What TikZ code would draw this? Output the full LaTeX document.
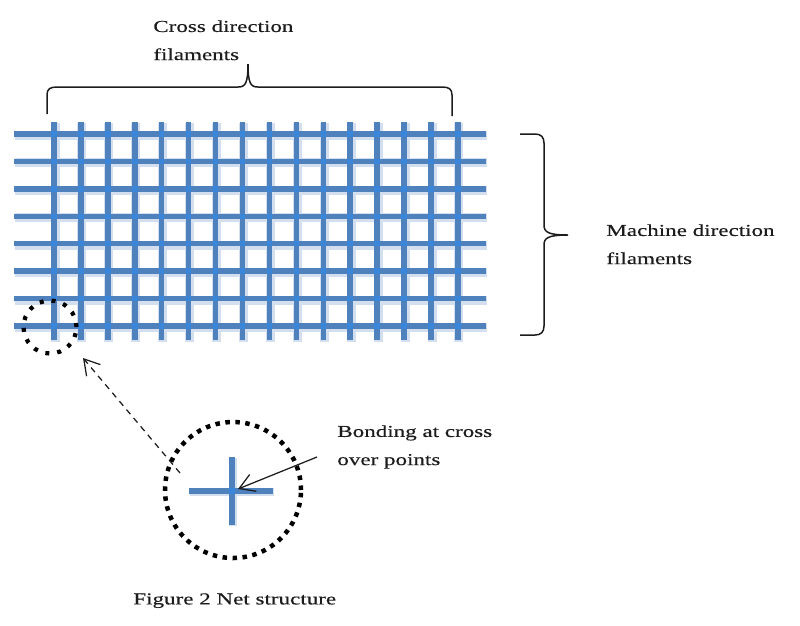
\documentclass[tikz,border=0pt]{standalone}
\usepackage{fontspec}
\usepackage{tikz}
\usetikzlibrary{arrows.meta}
\newfontfamily\figfont[FakeStretch=1.38, FakeBold=0.35]{Liberation Serif}
\definecolor{NetBlue}{HTML}{4F81BD}
\definecolor{NetKnot}{HTML}{3A86DA}
\definecolor{NetShade}{HTML}{D3DEEE}
\definecolor{InkDark}{HTML}{1C1C1C}

\begin{document}
\begin{tikzpicture}[x=0.2mm, y=-0.2mm,
      shd/.style={NetShade, line width=1.8mm},
      fil/.style={NetBlue, line width=1.1mm},
      knot/.style={fill=NetKnot, inner sep=0pt, minimum size=1.1mm},
      ring/.style={circle, draw=black, line width=0.9mm,
                   dash pattern=on 0.9mm off 1.1mm, inner sep=0pt},
      lbl/.style={font=\figfont\fontsize{9.5}{16}\selectfont, text=InkDark,
                  align=left, anchor=north west, inner sep=0pt},
      brc/.style={InkDark, line width=0.3mm},
      ar/.style={-{Straight Barb[length=3mm, width=3.6mm]}, InkDark,
                 line width=0.25mm},
    ]
      \useasboundingbox (0,0) rectangle (800,625);
      % net of filaments
      \foreach \r in {0,...,7}
        \draw[shd] (15,135.5+27.43*\r) -- (487,135.5+27.43*\r);
      \foreach \c in {0,...,15}
        \draw[shd] (55+26.93*\c,123) -- (55+26.93*\c,342);
      \foreach \r in {0,...,7}
        \draw[fil] (14,134+27.43*\r) -- (486,134+27.43*\r);
      \foreach \c in {0,...,15}
        \draw[fil] (54+26.93*\c,122) -- (54+26.93*\c,340);
      \foreach \r in {0,...,7}
        \foreach \c in {0,...,15}
          \node[knot] at (54+26.93*\c,134+27.43*\r) {};
      % braces
      \draw[brc] (47,114) -- (47,95) .. controls (47,89) and (50,87) .. (57,87)
        -- (238,87) .. controls (245,87) and (248,84) .. (248,64)
        .. controls (248,84) and (251,87) .. (258,87) -- (442,87)
        .. controls (449,87) and (452,89) .. (452,95) -- (452,116);
      \draw[brc] (520,134) -- (535,134) .. controls (541,134) and (544,137) .. (544,143)
        -- (544,225) .. controls (544,232) and (548,235) .. (568,235)
        .. controls (548,235) and (544,238) .. (544,245) -- (544,326)
        .. controls (544,332) and (541,335) .. (535,335) -- (520,335);
      \node[lbl] (cdlab) at (153,20) {Cross direction\\filaments};
      \node[lbl] (mdlab) at (606,224) {Machine direction\\filaments};
      % detail of one cross over point
      \node[ring, dash pattern=on 0.8mm off 1.6mm, line width=0.85mm,
            minimum size=10.6mm] (smallring) at (50,327) {};
      \node[ring, minimum size=27.2mm] (bigring) at (233,490) {};
      \draw[shd, line width=1.6mm] (190,492) -- (274,492);
      \draw[shd, line width=1.6mm] (233,458) -- (233,526);
      \draw[fil] (189,491) -- (273,491);
      \draw[fil] (232,457) -- (232,525);
      \node[knot] at (232,491) {};
      \coordinate (dashfrom) at (180,473);
      \coordinate (dashto) at (83,358);
      \draw[ar, dash pattern=on 1.2mm off 1mm] (dashfrom) -- (dashto);
      \node[lbl] (bondlab) at (337,425) {Bonding at cross\\over points};
      \coordinate (bondfrom) at (317,457);
      \coordinate (bondto) at (238,489);
      \draw[ar] (bondfrom) -- (bondto);
      \node[lbl] (caption) at (133,593) {Figure 2 Net structure};
    \end{tikzpicture}
\end{document}
